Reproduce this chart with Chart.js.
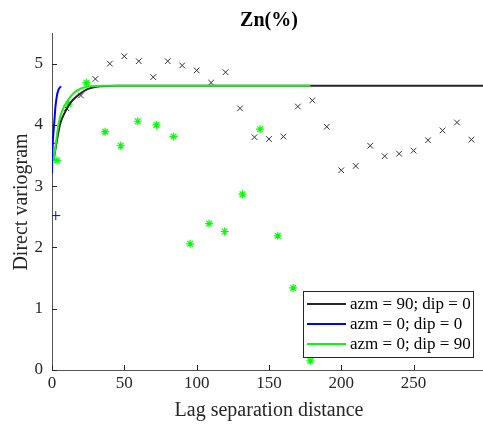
<!DOCTYPE html>
<html>
<head>
<meta charset="utf-8">
<script src="https://cdn.jsdelivr.net/npm/chart.js@4"></script>
<style>
  html, body { margin: 0; padding: 0; background: #fff; }
  #wrap { width: 483px; height: 426px; }
</style>
</head>
<body>
<div id="wrap"><canvas id="vario" width="483" height="426"></canvas></div>
<script>
// experimental variogram, azm = 90; dip = 0
const lagsH = [10, 20, 30, 40, 50, 60, 70, 80, 90, 100, 110, 120, 130, 140, 150,
  160, 170, 180, 190, 200, 210, 220, 230, 240, 250, 260, 270, 280, 290];
const gammaH = [4.27, 4.48, 4.75, 5.00, 5.12, 5.04, 4.78, 5.04, 4.97, 4.89, 4.69, 4.86, 4.27, 3.80, 3.77,
  3.81, 4.30, 4.40, 3.97, 3.26, 3.33, 3.66, 3.49, 3.53, 3.58, 3.75, 3.91, 4.04, 3.76];

// experimental variogram, azm = 0; dip = 0
const lagsN = [0.5, 2.6];
const gammaN = [3.70, 2.52];

// experimental variogram, azm = 0; dip = 90
const lagsV = [3.4, 11.5, 23.8, 36.7, 47.5, 59.3, 72.2, 84.0, 95.5, 108.6, 119.4, 131.7,
  143.9, 156.1, 166.7, 178.6];
const gammaV = [3.42, 4.34, 4.69, 3.89, 3.66, 4.06, 4.00, 3.81, 2.06, 2.39, 2.26, 2.87,
  3.93, 2.19, 1.34, 0.15];

// fitted models
const modelHx = [1.2, 3.5, 5.8, 9.3, 12.7, 17.3, 24.2, 33.5, 45, 298];
const modelHy = [3.43, 3.76, 4.03, 4.22, 4.36, 4.47, 4.58, 4.63, 4.64, 4.64];
const modelNx = [0, 0.15, 0.4, 1.0, 1.7, 2.4, 3.5, 4.6, 6.2];
const modelNy = [3.21, 3.43, 3.65, 3.87, 4.08, 4.30, 4.49, 4.58, 4.63];
const modelVx = [1.2, 3.0, 4.6, 6.9, 10.4, 15, 19.6, 26.6, 35, 178.7];
const modelVy = [3.43, 3.76, 4.03, 4.22, 4.38, 4.52, 4.59, 4.63, 4.64, 4.64];

const xTicks = [0, 50, 100, 150, 200, 250];
const yTicks = [0, 1, 2, 3, 4, 5];

const legendLabels = ['azm = 90; dip = 0', 'azm = 0; dip = 0', 'azm = 0; dip = 90'];
const legendColors = ['#262626', '#0000ff', '#00ff00'];

const pts = (xs, ys) => xs.map((v, i) => ({ x: v, y: ys[i] }));
const serif = '"Liberation Serif", "Times New Roman", serif';
const ink = '#262626';

const decor = {
  id: 'decor',
  afterDraw(chart) {
    const { ctx, chartArea: a, scales: { x, y } } = chart;
    ctx.save();
    // inward tick marks
    ctx.strokeStyle = ink;
    ctx.lineWidth = 1;
    ctx.beginPath();
    xTicks.forEach(v => {
      const px = Math.round(x.getPixelForValue(v)) + 0.5;
      ctx.moveTo(px, a.bottom);
      ctx.lineTo(px, a.bottom - 5);
    });
    yTicks.forEach(v => {
      const py = Math.round(y.getPixelForValue(v)) + 0.5;
      ctx.moveTo(a.left, py);
      ctx.lineTo(a.left + 5, py);
    });
    ctx.stroke();

    // title
    ctx.fillStyle = '#000';
    ctx.font = 'bold 20px ' + serif;
    ctx.textAlign = 'center';
    ctx.textBaseline = 'middle';
    ctx.fillText('Zn(%)', 269, 21);

    // axis titles
    ctx.fillStyle = ink;
    ctx.font = '20px ' + serif;
    ctx.fillText('Lag separation distance', 269, 411);
    ctx.translate(22, 202);
    ctx.rotate(-Math.PI / 2);
    ctx.fillText('Direct variogram', 0, 0);
    ctx.setTransform(1, 0, 0, 1, 0, 0);

    // legend box
    const bx = 303, by = 291, bw = 170, bh = 66;
    ctx.fillStyle = '#fff';
    ctx.fillRect(bx, by, bw, bh);
    ctx.strokeStyle = ink;
    ctx.strokeRect(bx + 0.5, by + 0.5, bw, bh);
    ctx.font = '17px ' + serif;
    ctx.textAlign = 'left';
    legendLabels.forEach((t, i) => {
      const ly = 304 + i * 20;
      ctx.strokeStyle = legendColors[i];
      ctx.lineWidth = 2;
      ctx.beginPath();
      ctx.moveTo(307, ly);
      ctx.lineTo(346, ly);
      ctx.stroke();
      ctx.fillStyle = '#000';
      ctx.fillText(t, 350, ly + 1);
    });
    ctx.restore();
  }
};

new Chart(document.getElementById('vario'), {
  type: 'scatter',
  data: {
    datasets: [
      {
        data: pts(lagsH, gammaH), pointStyle: 'crossRot', pointRadius: 4,
        borderColor: '#333', borderWidth: 1, showLine: false, order: 5
      },
      {
        data: pts(lagsN, gammaN), pointStyle: 'cross', pointRadius: 4.5,
        borderColor: '#0000ff', borderWidth: 1, showLine: false, order: 4
      },
      {
        data: pts(lagsV, gammaV), pointStyle: 'star', pointRadius: 4,
        borderColor: '#00ff00', borderWidth: 1.2, showLine: false, order: 3
      },
      {
        data: pts(modelHx, modelHy), showLine: true, pointRadius: 0,
        borderColor: '#262626', borderWidth: 2, cubicInterpolationMode: 'monotone', order: 2
      },
      {
        data: pts(modelNx, modelNy), showLine: true, pointRadius: 0,
        borderColor: '#0000ff', borderWidth: 2, cubicInterpolationMode: 'monotone', order: 1
      },
      {
        data: pts(modelVx, modelVy), showLine: true, pointRadius: 0,
        borderColor: '#22ee22', borderWidth: 2, cubicInterpolationMode: 'monotone', order: 0
      }
    ]
  },
  options: {
    responsive: false,
    animation: false,
    events: [],
    layout: { autoPadding: false, padding: { top: 33, right: 0, bottom: 0, left: 0 } },
    plugins: { legend: { display: false }, tooltip: { enabled: false }, title: { display: false } },
    scales: {
      x: {
        type: 'linear', min: 0, max: 298,
        grid: { display: false, drawTicks: false },
        border: { display: true, color: '#555', width: 1 },
        afterBuildTicks: s => { s.ticks = xTicks.map(v => ({ value: v })); },
        afterFit: s => { s.height = 56; },
        ticks: { font: { family: serif, size: 17 }, color: ink, padding: 3, maxRotation: 0 }
      },
      y: {
        type: 'linear', min: 0, max: 5.5,
        grid: { display: false, drawTicks: false },
        border: { display: true, color: '#555', width: 1 },
        afterBuildTicks: s => { s.ticks = yTicks.map(v => ({ value: v })); },
        afterFit: s => { s.width = 52; },
        ticks: { font: { family: serif, size: 17 }, color: ink, padding: 9 }
      }
    }
  },
  plugins: [decor]
});
</script>
</body>
</html>
